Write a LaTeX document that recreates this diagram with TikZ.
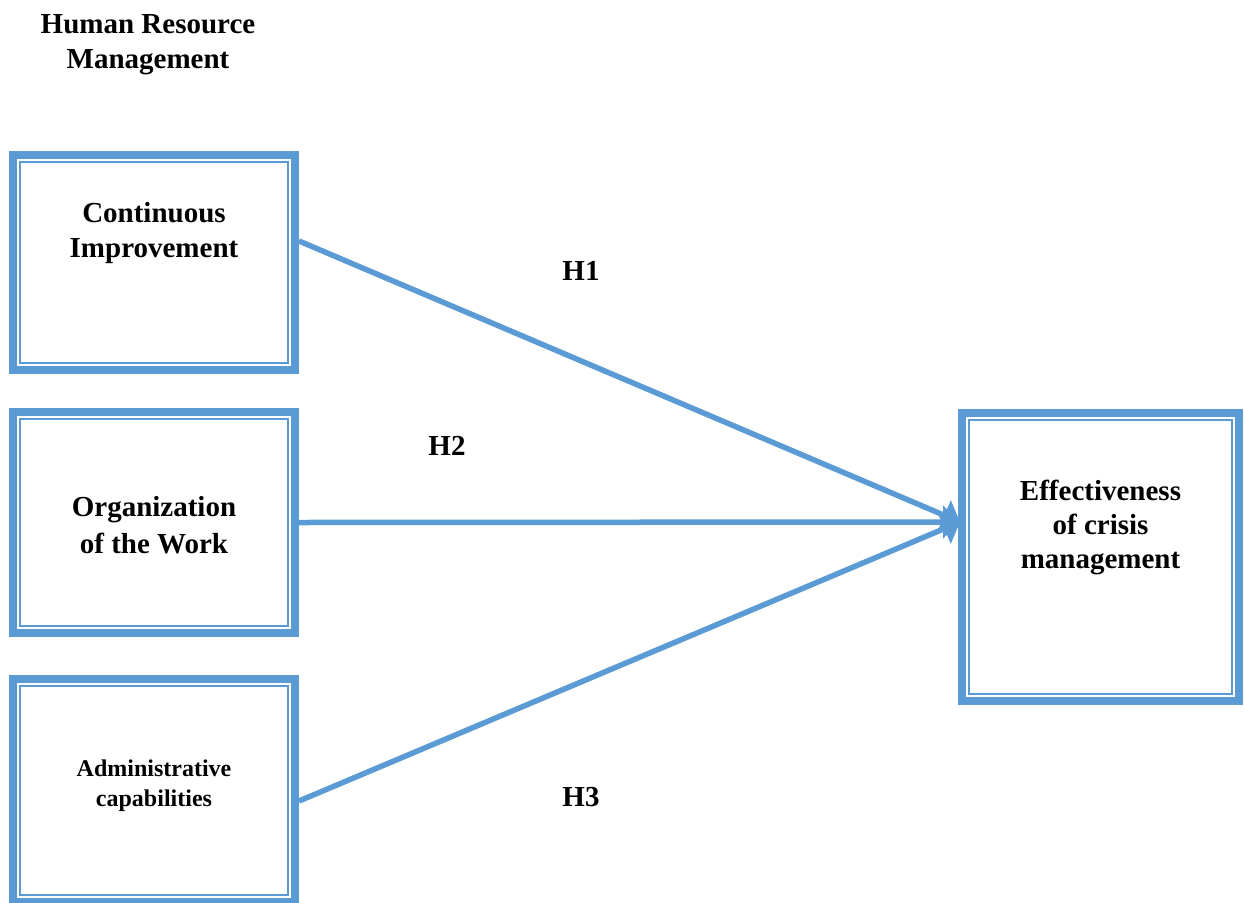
\documentclass[tikz,border=0pt]{standalone}
\usepackage{fontspec}
\setmainfont{Liberation Serif}
\usepackage{xcolor}
\usetikzlibrary{arrows.meta}
\definecolor{hrmblue}{HTML}{5B9BD5}

\begin{document}
\begin{tikzpicture}[x=1pt,y=-1pt]
  \useasboundingbox (0,0) rectangle (1244,902);
  \tikzstyle{frame}=[rectangle,draw=hrmblue,line width=8pt,fill=white]
  \tikzstyle{txt}=[align=center,font=\fontsize{29}{35}\selectfont\bfseries]
  \tikzstyle{link}=[draw=hrmblue,line width=5.5pt,-{Triangle[length=17pt,width=32pt]}]
  \node[txt] (hrm) at (148,45) {Human Resource\\Management};
  % boxes
  \node[frame,minimum width=282pt,minimum height=215pt] (ci) at (154,262.5) {};
  \node[frame,minimum width=282pt,minimum height=221pt] (ow) at (154,522.5) {};
  \node[frame,minimum width=282pt,minimum height=223pt] (ac) at (154,790.5) {};
  \node[frame,minimum width=277pt,minimum height=288pt] (ecm) at (1100.5,557) {};
  \foreach \n in {ci,ow,ac,ecm}
    \draw[hrmblue,line width=1.6pt] ([shift={(11pt,-11pt)}]\n.north west) rectangle ([shift={(-11pt,11pt)}]\n.south east);
  \node[txt] at ([yshift=29pt]ci.center) {Continuous\\Improvement};
  \node[txt,font=\fontsize{29}{37}\selectfont\bfseries] at ([yshift=-3pt]ow.center) {Organization\\of the Work};
  \node[txt,font=\fontsize{24}{30}\selectfont\bfseries] at ([yshift=4.5pt]ac.center) {Administrative\\capabilities};
  \node[txt,font=\fontsize{29}{34}\selectfont\bfseries] at ([yshift=29.5pt]ecm.center) {Effectiveness\\of crisis\\management};
  % hypotheses
  \coordinate (tip) at ([shift={(2pt,35pt)}]ecm.west);
  \draw[link] ([yshift=21.5pt]ci.east) -- (tip);
  \draw[link] (ow.east) -- (tip);
  \draw[link] ([yshift=-10.5pt]ac.east) -- (tip);
  \node[txt] (h1) at (581,271) {H1};
  \node[txt] (h2) at (447,446) {H2};
  \node[txt] (h3) at (581,797) {H3};
\end{tikzpicture}
\end{document}
